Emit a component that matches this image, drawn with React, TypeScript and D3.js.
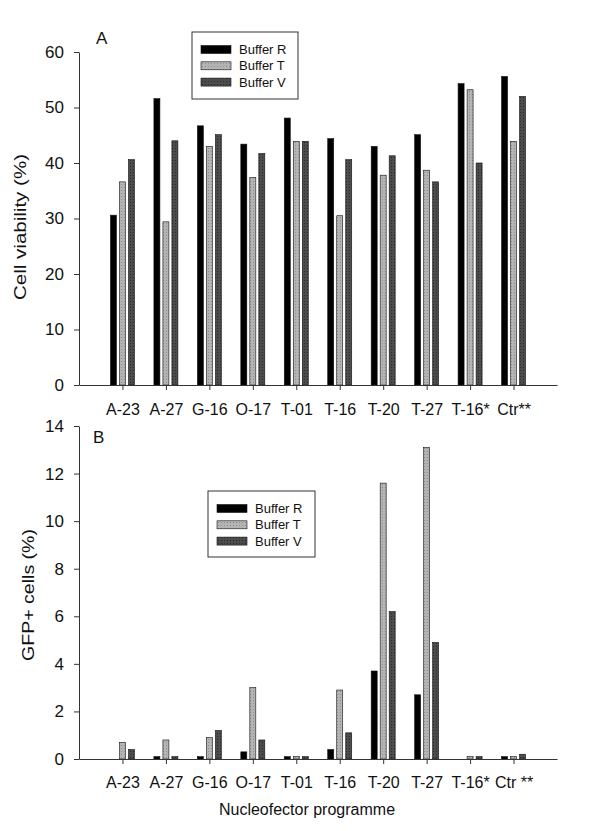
import { useEffect, useRef } from 'react';
import * as d3 from 'd3';

const programmes = ['A-23', 'A-27', 'G-16', 'O-17', 'T-01', 'T-16', 'T-20', 'T-27', 'T-16*', 'Ctr**'];
const tickLabelsA = ['A-23', 'A-27', 'G-16', 'O-17', 'T-01', 'T-16', 'T-20', 'T-27', 'T-16*', 'Ctr**'];
const tickLabelsB = ['A-23', 'A-27', 'G-16', 'O-17', 'T-01', 'T-16', 'T-20', 'T-27', 'T-16*', 'Ctr **'];
const buffers = ['Buffer R', 'Buffer T', 'Buffer V'];

// panel A: cell viability (%)
const viabilityR = [30.6, 51.6, 46.7, 43.4, 48.1, 44.4, 43.0, 45.1, 54.3, 55.6];
const viabilityT = [36.6, 29.4, 43.0, 37.4, 43.9, 30.5, 37.8, 38.7, 53.2, 43.9];
const viabilityV = [40.6, 44.0, 45.1, 41.7, 43.9, 40.6, 41.3, 36.6, 40.0, 52.0];

// panel B: GFP+ cells (%)
const gfpR = [0, 0.1, 0.1, 0.3, 0.1, 0.4, 3.7, 2.7, 0, 0.1];
const gfpT = [0.7, 0.8, 0.9, 3.0, 0.1, 2.9, 11.6, 13.1, 0.1, 0.1];
const gfpV = [0.4, 0.1, 1.2, 0.8, 0.1, 1.1, 6.2, 4.9, 0.1, 0.2];

const yTicksA = [0, 10, 20, 30, 40, 50, 60];
const yTicksB = [0, 2, 4, 6, 8, 10, 12, 14];

const FONT = '"Liberation Sans", Arial, Helvetica, sans-serif';
const fills = ['#000000', 'url(#patT)', 'url(#patV)'];

type Panel = {
  top: number;
  bottom: number;
  series: number[][];
  yMax: number;
  yTicks: number[];
  tickLabels: string[];
  labelY: number;
  letter: string;
  letterX: number;
  letterY: number;
  yTitle: string;
  yTitleX: number;
  yTitleY: number;
  yTitleLen: number;
  legend: { x: number; y: number; w: number; h: number };
};

const panels: Panel[] = [
  {
    top: 52,
    bottom: 385,
    series: [viabilityR, viabilityT, viabilityV],
    yMax: 60,
    yTicks: yTicksA,
    tickLabels: tickLabelsA,
    labelY: 415,
    letter: 'A',
    letterX: 96,
    letterY: 44,
    yTitle: 'Cell viability (%)',
    yTitleX: 26,
    yTitleY: 227,
    yTitleLen: 146,
    legend: { x: 192, y: 32, w: 106, h: 67 }
  },
  {
    top: 426,
    bottom: 759,
    series: [gfpR, gfpT, gfpV],
    yMax: 14,
    yTicks: yTicksB,
    tickLabels: tickLabelsB,
    labelY: 788,
    letter: 'B',
    letterX: 93,
    letterY: 443,
    yTitle: 'GFP+ cells (%)',
    yTitleX: 34,
    yTitleY: 595,
    yTitleLen: 132,
    legend: { x: 208, y: 491, w: 107, h: 66 }
  }
];

export default function App() {
  const ref = useRef<SVGSVGElement>(null);

  useEffect(() => {
    const svg = d3.select(ref.current);
    svg.selectAll('*').remove();

    // grainy fills for the grey bars
    const defs = svg.append('defs');
    const patT = defs
      .append('pattern')
      .attr('id', 'patT')
      .attr('patternUnits', 'userSpaceOnUse')
      .attr('width', 3)
      .attr('height', 3);
    patT.append('rect').attr('width', 3).attr('height', 3).attr('fill', '#b4b4b4');
    patT.append('rect').attr('x', 1).attr('y', 1).attr('width', 1).attr('height', 1).attr('fill', '#8e8e8e');
    const patV = defs
      .append('pattern')
      .attr('id', 'patV')
      .attr('patternUnits', 'userSpaceOnUse')
      .attr('width', 3)
      .attr('height', 3);
    patV.append('rect').attr('width', 3).attr('height', 3).attr('fill', '#4c4c4c');
    patV.append('rect').attr('x', 1).attr('y', 1).attr('width', 1).attr('height', 1).attr('fill', '#2a2a2a');

    const left = 79;
    const right = 557;
    const x = d3.scaleLinear().domain([0, programmes.length + 1]).range([left, right]);
    const inner = d3.scaleBand<string>().domain(buffers).range([-12, 12]).paddingInner(1 / 3);

    panels.forEach((p) => {
      const y = d3.scaleLinear().domain([0, p.yMax]).range([p.bottom, p.top]);
      const g = svg.append('g').attr('font-family', FONT);

      // bars
      p.series.forEach((values, si) => {
        const rows = values.map((v, i) => ({ v, i })).filter((d) => d.v > 0);
        g.append('g')
          .selectAll('rect')
          .data(rows)
          .enter()
          .append('rect')
          .attr('x', (d) => x(d.i + 1) + inner(buffers[si])!)
          .attr('width', inner.bandwidth())
          .attr('y', (d) => y(d.v))
          .attr('height', (d) => p.bottom - y(d.v))
          .attr('fill', fills[si])
          .attr('stroke', '#111')
          .attr('stroke-width', 0.6);
      });

      // y axis
      g.append('g')
        .attr('transform', `translate(${left},0)`)
        .call(d3.axisLeft(y).tickValues(p.yTicks).tickSize(5).tickPadding(10).tickSizeOuter(0))
        .call((ax) => {
          ax.attr('font-family', FONT).attr('font-size', 17);
          ax.select('.domain').attr('stroke', '#333');
          ax.selectAll('.tick line').attr('stroke', '#333');
          ax.selectAll('.tick text').attr('fill', '#111');
        });

      // x axis
      g.append('g')
        .attr('transform', `translate(0,${p.bottom})`)
        .call(
          d3
            .axisBottom(x)
            .tickValues(programmes.map((_, i) => i + 1))
            .tickFormat((_, i) => p.tickLabels[i])
            .tickSize(5)
            .tickSizeOuter(0)
        )
        .call((ax) => {
          ax.attr('font-family', FONT).attr('font-size', 16);
          ax.select('.domain').attr('stroke', '#333');
          ax.selectAll('.tick line').attr('stroke', '#333');
          ax.selectAll('.tick text')
            .attr('fill', '#111')
            .attr('dy', null)
            .attr('y', p.labelY - p.bottom);
        });

      // panel letter
      g.append('text')
        .attr('x', p.letterX)
        .attr('y', p.letterY)
        .attr('font-size', 17)
        .attr('fill', '#111')
        .text(p.letter);

      // y title
      g.append('text')
        .attr('transform', `translate(${p.yTitleX},${p.yTitleY}) rotate(-90)`)
        .attr('text-anchor', 'middle')
        .attr('font-size', 16)
        .attr('textLength', p.yTitleLen)
        .attr('lengthAdjust', 'spacingAndGlyphs')
        .attr('fill', '#111')
        .text(p.yTitle);

      // legend
      const lg = g.append('g').attr('transform', `translate(${p.legend.x},${p.legend.y})`);
      lg.append('rect')
        .attr('width', p.legend.w)
        .attr('height', p.legend.h)
        .attr('fill', '#fff')
        .attr('stroke', '#333')
        .attr('stroke-width', 1);
      buffers.forEach((b, i) => {
        const cy = 17.5 + i * 16.3;
        lg.append('rect')
          .attr('x', 9)
          .attr('y', cy - 4)
          .attr('width', 30)
          .attr('height', 8)
          .attr('fill', fills[i])
          .attr('stroke', '#111')
          .attr('stroke-width', 0.6);
        lg.append('text')
          .attr('x', 47)
          .attr('y', cy + 4.5)
          .attr('font-size', 13)
          .attr('fill', '#111')
          .text(b);
      });
    });

    svg.append('text')
      .attr('x', 307)
      .attr('y', 815)
      .attr('text-anchor', 'middle')
      .attr('font-family', FONT)
      .attr('font-size', 16)
      .attr('fill', '#111')
      .text('Nucleofector programme');
  }, []);

  return (
    <svg
      ref={ref}
      width={600}
      height={831}
      style={{ position: 'absolute', left: 0, top: 0, background: '#fff' }}
    />
  );
}
